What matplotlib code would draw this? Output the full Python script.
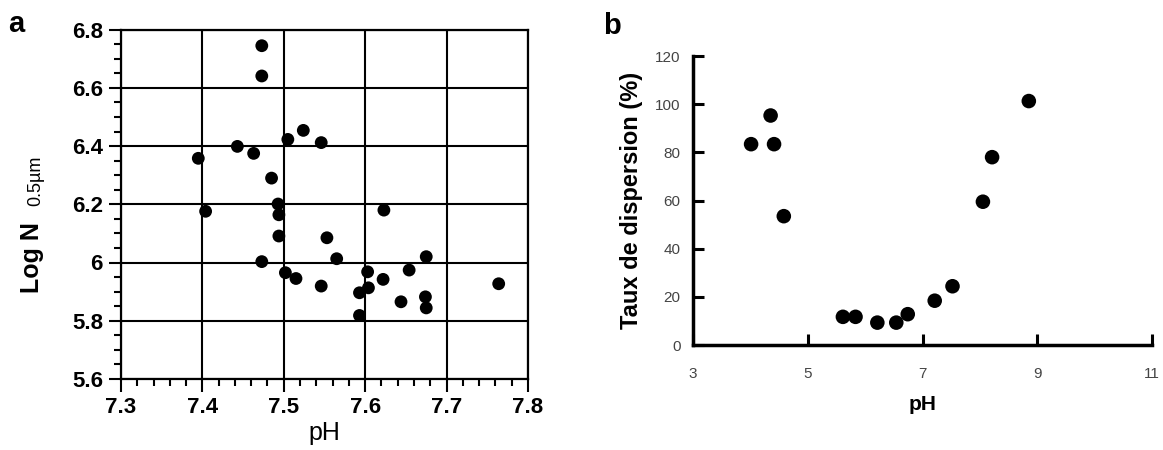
import numpy as np
import matplotlib
matplotlib.use('Agg')
import matplotlib.pyplot as plt
from matplotlib.ticker import MultipleLocator

plt.rcParams['font.family'] = ['Liberation Sans', 'DejaVu Sans']

# panel a : Log N 0.5um vs pH
ph_a = [7.473, 7.473, 7.524, 7.505, 7.546, 7.443, 7.463, 7.395, 7.485, 7.493,
        7.494, 7.404, 7.623, 7.494, 7.553, 7.565, 7.473, 7.675, 7.502, 7.515,
        7.546, 7.603, 7.654, 7.622, 7.593, 7.604, 7.644, 7.674, 7.675, 7.593,
        7.764]
logn = [6.745, 6.641, 6.454, 6.423, 6.412, 6.399, 6.375, 6.358, 6.290, 6.201,
        6.164, 6.176, 6.180, 6.091, 6.085, 6.013, 6.003, 6.020, 5.965, 5.945,
        5.919, 5.968, 5.974, 5.942, 5.896, 5.913, 5.865, 5.882, 5.844, 5.818,
        5.927]
xt_a = [7.3, 7.4, 7.5, 7.6, 7.7, 7.8]
xl_a = ['7.3', '7.4', '7.5', '7.6', '7.7', '7.8']
yt_a = [5.6, 5.8, 6.0, 6.2, 6.4, 6.6, 6.8]
yl_a = ['5.6', '5.8', '6', '6.2', '6.4', '6.6', '6.8']

# panel b : dispersion rate vs pH
ph_b = [4.01, 4.35, 4.41, 4.58, 5.61, 5.83, 6.21, 6.54, 6.74, 7.21, 7.52, 8.05, 8.21, 8.85]
taux = [83.4, 95.3, 83.4, 53.5, 11.7, 11.7, 9.3, 9.3, 12.8, 18.4, 24.4, 59.5, 78.0, 101.3]

fig = plt.figure(figsize=(11.63, 4.5), dpi=100)

ax1 = fig.add_axes([0.104, 0.158, 0.350, 0.776])
ax1.scatter(ph_a, logn, s=85, c='black', zorder=3, edgecolors='none')
ax1.set_xlim(7.3, 7.8)
ax1.set_ylim(5.6, 6.8)
ax1.set_xticks(xt_a)
ax1.set_xticklabels(xl_a)
ax1.set_yticks(yt_a)
ax1.set_yticklabels(yl_a)
ax1.xaxis.set_minor_locator(MultipleLocator(0.02))
ax1.yaxis.set_minor_locator(MultipleLocator(0.05))
ax1.grid(True, which='major', color='black', linewidth=1.5)
ax1.set_axisbelow(True)
for sp in ax1.spines.values():
    sp.set_linewidth(1.6)
ax1.tick_params(which='major', direction='out', length=9, width=1.5,
                labelsize=16, pad=4)
ax1.tick_params(which='minor', direction='out', length=5, width=1.5)
for lab in ax1.get_xticklabels() + ax1.get_yticklabels():
    lab.set_fontweight('bold')
ax1.set_xlabel('pH', fontsize=18, labelpad=2)
fig.text(0.0275, 1 - 293 / 450, 'Log N', rotation=90, ha='center', va='bottom',
         fontsize=18, fontweight='bold')
fig.text(0.031, 1 - 206 / 450, '0.5µm', rotation=90, ha='center', va='bottom',
         fontsize=13)
fig.text(0.007, 0.93, 'a', fontsize=21, fontweight='bold')

ax2 = fig.add_axes([0.596, 0.2333, 0.3947, 0.6422])
ax2.scatter(ph_b, taux, s=110, c='black', zorder=3, edgecolors='none',
            clip_on=False)
ax2.set_xlim(3, 11)
ax2.set_ylim(0, 120)
ax2.set_xticks([3, 5, 7, 9, 11])
ax2.set_yticks([0, 20, 40, 60, 80, 100, 120])
ax2.spines['top'].set_visible(False)
ax2.spines['right'].set_visible(False)
ax2.spines['left'].set_linewidth(2.5)
ax2.spines['bottom'].set_linewidth(2.5)
ax2.tick_params(direction='in', length=8, width=2.2, labelsize=11,
                labelcolor='#444444')
ax2.tick_params(axis='x', pad=16)
ax2.tick_params(axis='y', pad=9)
ax2.set_xlabel('pH', fontsize=15, fontweight='bold', labelpad=10)
ax2.set_ylabel('Taux de dispersion (%)', fontsize=17, fontweight='bold',
               labelpad=9)
fig.text(0.519, 0.925, 'b', fontsize=21, fontweight='bold')

fig.savefig('out.png', dpi=100)
